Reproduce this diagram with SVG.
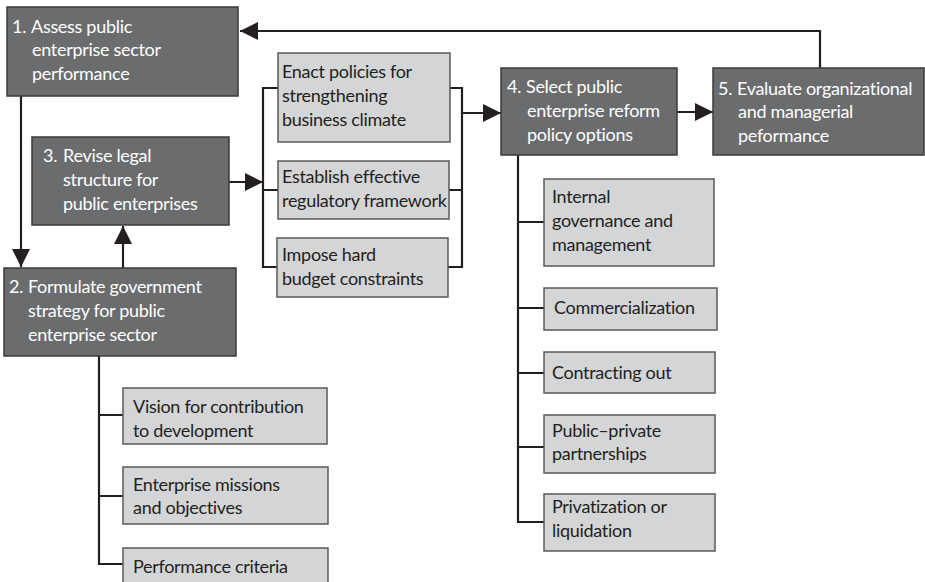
<svg xmlns="http://www.w3.org/2000/svg" width="925" height="582" viewBox="0 0 925 582">
<defs>
<style>
.dk{fill:#6b6c6e;stroke:#3a3a3b;stroke-width:1.5}
.lt{fill:#d4d5d7;stroke:#58595b;stroke-width:1.5}
.tw{font-family:Lato,"Open Sans",sans-serif;font-size:18px;letter-spacing:-0.3px;fill:#ffffff}
.tb{font-family:Lato,"Open Sans",sans-serif;font-size:18px;letter-spacing:-0.3px;fill:#231f20}
.ln{fill:none;stroke:#231f20;stroke-width:2.2}
</style>
<marker id="ah" viewBox="0 0 18 18" refX="18" refY="9" markerWidth="18" markerHeight="18" markerUnits="userSpaceOnUse" orient="auto">
<path d="M0,0 L18,9 L0,18 z" fill="#231f20"/>
</marker>
</defs>
<rect width="925" height="582" fill="#ffffff"/>

<g id="connectors">
<path class="ln" d="M820,68 V31 H240" marker-end="url(#ah)"/>
<path class="ln" d="M21,96 V267" marker-end="url(#ah)"/>
<path class="ln" d="M123,268 V226" marker-end="url(#ah)"/>
<path class="ln" d="M229,182 H263" marker-end="url(#ah)"/>
<path class="ln" d="M462,113 H501" marker-end="url(#ah)"/>
<path class="ln" d="M677,112 H713" marker-end="url(#ah)"/>
<path class="ln" d="M278,88 H263 V267 H277 M263,190 H278"/>
<path class="ln" d="M450,88 H462 V267 H448 M449,190 H462"/>
<path class="ln" d="M518,155 V522 H544 M518,222 H544 M518,308 H544 M518,373 H544 M518,447 H544"/>
<path class="ln" d="M99,356 V564 H123 M99,415 H123 M99,496 H123"/>
</g>

<g id="n1">
<rect class="dk" x="7" y="7" width="231" height="89"/>
<text class="tw"><tspan x="12" y="33">1.</tspan><tspan x="31" y="33">Assess public</tspan><tspan x="32" y="56">enterprise sector</tspan><tspan x="32" y="80">performance</tspan></text>
</g>
<g id="n3">
<rect class="dk" x="32" y="137" width="197" height="88"/>
<text class="tw"><tspan x="43" y="162">3.</tspan><tspan x="63" y="162">Revise legal</tspan><tspan x="63" y="186">structure for</tspan><tspan x="63" y="210">public enterprises</tspan></text>
</g>
<g id="n2">
<rect class="dk" x="4" y="268" width="232" height="88"/>
<text class="tw"><tspan x="9" y="293">2.</tspan><tspan x="28" y="293">Formulate government</tspan><tspan x="28" y="317">strategy for public</tspan><tspan x="28" y="341">enterprise sector</tspan></text>
</g>
<g id="n4">
<rect class="dk" x="501" y="68" width="176" height="87"/>
<text class="tw"><tspan x="507" y="93">4.</tspan><tspan x="526" y="93">Select public</tspan><tspan x="527" y="117">enterprise reform</tspan><tspan x="527" y="141">policy options</tspan></text>
</g>
<g id="n5">
<rect class="dk" x="713" y="68" width="211" height="87"/>
<text class="tw"><tspan x="718" y="95">5.</tspan><tspan x="737" y="95">Evaluate organizational</tspan><tspan x="738" y="118">and managerial</tspan><tspan x="738" y="142">peformance</tspan></text>
</g>

<g id="enact">
<rect class="lt" x="278" y="53" width="172" height="89"/>
<text class="tb"><tspan x="282" y="78">Enact policies for</tspan><tspan x="282" y="102">strengthening</tspan><tspan x="282" y="126">business climate</tspan></text>
</g>
<g id="regulatory">
<rect class="lt" x="278" y="161" width="171" height="58"/>
<text class="tb"><tspan x="282" y="183">Establish effective</tspan><tspan x="282" y="207">regulatory framework</tspan></text>
</g>
<g id="budget">
<rect class="lt" x="277" y="238" width="171" height="59"/>
<text class="tb"><tspan x="282" y="261">Impose hard</tspan><tspan x="282" y="285">budget constraints</tspan></text>
</g>

<g id="internal">
<rect class="lt" x="544" y="179" width="170" height="87"/>
<text class="tb"><tspan x="552" y="203">Internal</tspan><tspan x="552" y="227">governance and</tspan><tspan x="552" y="251">management</tspan></text>
</g>
<g id="commercial">
<rect class="lt" x="544" y="288" width="173" height="42"/>
<text class="tb" x="554" y="314">Commercialization</text>
</g>
<g id="contracting">
<rect class="lt" x="544" y="352" width="171" height="41"/>
<text class="tb" x="552" y="379">Contracting out</text>
</g>
<g id="ppp">
<rect class="lt" x="544" y="415" width="171" height="58"/>
<text class="tb"><tspan x="552" y="437">Public–private</tspan><tspan x="552" y="460">partnerships</tspan></text>
</g>
<g id="privatization">
<rect class="lt" x="544" y="494" width="171" height="57"/>
<text class="tb"><tspan x="552" y="513">Privatization or</tspan><tspan x="552" y="537">liquidation</tspan></text>
</g>

<g id="vision">
<rect class="lt" x="123" y="388" width="204" height="56"/>
<text class="tb"><tspan x="133" y="413">Vision for contribution</tspan><tspan x="133" y="437">to development</tspan></text>
</g>
<g id="missions">
<rect class="lt" x="123" y="467" width="205" height="57"/>
<text class="tb"><tspan x="133" y="491">Enterprise missions</tspan><tspan x="133" y="514">and objectives</tspan></text>
</g>
<g id="criteria">
<rect class="lt" x="123" y="548" width="205" height="44"/>
<text class="tb" x="133" y="573">Performance criteria</text>
</g>
</svg>
